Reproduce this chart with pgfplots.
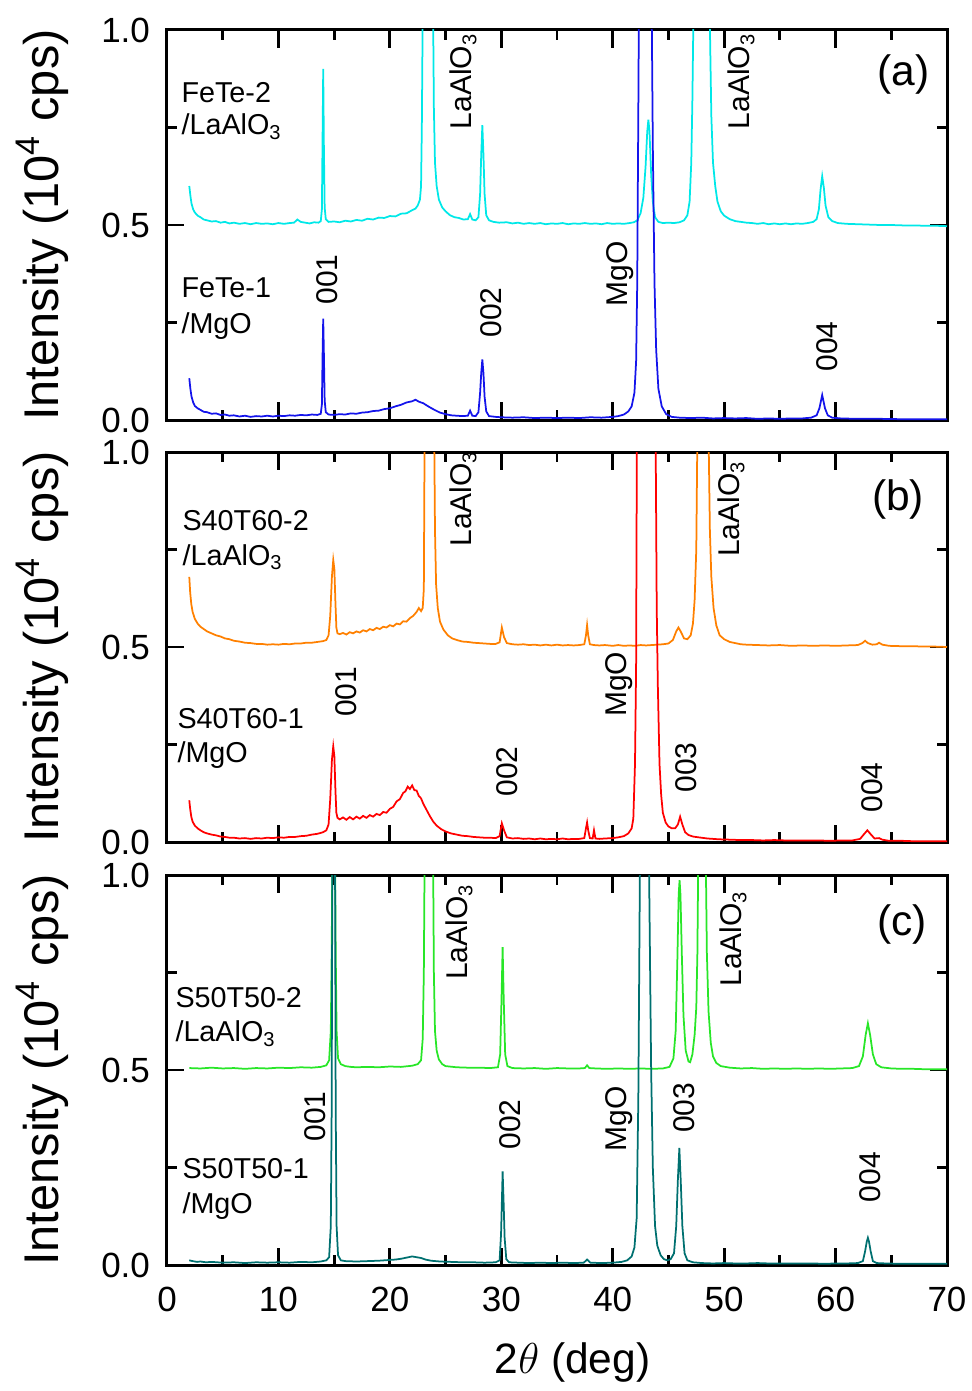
\documentclass[border=0pt]{standalone}
\usepackage{fontspec}
\setmainfont{Liberation Sans}
\usepackage{pgfplots}
\pgfplotsset{compat=1.18}
\definecolor{ccyan}{RGB}{0,232,232}
\definecolor{cblue}{RGB}{20,20,235}
\definecolor{corange}{RGB}{255,128,0}
\definecolor{cred}{RGB}{255,0,0}
\definecolor{cgreen}{RGB}{40,230,40}
\definecolor{cteal}{RGB}{0,112,112}
\newcommand{\ann}{\fontsize{11.5}{13}\selectfont}
\newcommand{\rot}{\fontsize{12}{14}\selectfont}
\newcommand{\plab}{\fontsize{17}{19}\selectfont}
\pgfplotsset{panel/.style={
  width=312pt,height=156pt,scale only axis,
  xmin=0,xmax=70,ymin=0,ymax=1,
  xtick={0,10,...,70}, minor x tick num=1,
  ytick={0,0.5,1}, minor y tick num=1,
  tick align=inside, major tick length=7pt, minor tick length=4pt,
  tick style={line width=1.1pt,black},
  axis line style={line width=1.2pt},
  /pgf/number format/assume math mode=true,
  tick label style={font=\fontsize{14}{16}\selectfont},
  yticklabel style={/pgf/number format/fixed,/pgf/number format/fixed zerofill,/pgf/number format/precision=1,xshift=-3.3pt},
  xticklabel style={yshift=-5.2pt},
  ylabel={Intensity (10\textsuperscript{4} cps)},
  ylabel style={at={(axis description cs:-0.16,0.5)},anchor=center,font=\fontsize{19.5}{21}\selectfont},
  every axis plot/.append style={line width=0.7pt},
  clip=true}}
\begin{document}
\begin{tikzpicture}
%================ (a)
\begin{axis}[panel, at={(0,0)}, anchor=north west, xticklabel=\empty]
\addplot[ccyan] coordinates {(2,0.60)(2.1,0.575)(2.2,0.555)(2.35,0.54)(2.5,0.532)(2.75,0.524)(3,0.52)(3.3,0.514)(3.6,0.512)(4,0.509)(4.4,0.51)(4.8,0.506)(5.2,0.508)(5.6,0.504)(6,0.506)(6.5,0.503)(7,0.505)(7.5,0.502)(8,0.505)(8.5,0.503)(9,0.504)(9.5,0.502)(10,0.505)(10.5,0.503)(11,0.505)(11.4,0.506)(11.7,0.514)(12,0.508)(12.4,0.506)(12.8,0.504)(13.2,0.507)(13.6,0.506)(13.8,0.51)(13.9,0.54)(13.97,0.75)(14.02,0.90)(14.08,0.7)(14.15,0.545)(14.25,0.515)(14.5,0.508)(15,0.509)(15.5,0.507)(16,0.511)(16.5,0.509)(17,0.513)(17.5,0.511)(18,0.516)(18.5,0.514)(19,0.519)(19.5,0.518)(20,0.523)(20.5,0.522)(21,0.529)(21.5,0.53)(22,0.538)(22.3,0.542)(22.5,0.55)(22.7,0.565)(22.8,0.6)(22.87,0.75)(22.95,1.05)(23.4,1.5)(23.88,1.05)(23.95,0.8)(24.05,0.66)(24.2,0.6)(24.4,0.565)(24.7,0.545)(25,0.535)(25.4,0.525)(25.8,0.52)(26.2,0.518)(26.6,0.514)(27,0.515)(27.2,0.528)(27.4,0.514)(27.7,0.512)(27.95,0.52)(28.1,0.58)(28.2,0.68)(28.3,0.756)(28.4,0.68)(28.5,0.58)(28.65,0.525)(28.9,0.512)(29.3,0.508)(29.8,0.506)(30.5,0.507)(31,0.504)(31.5,0.506)(32,0.503)(32.5,0.505)(33,0.503)(33.5,0.505)(34,0.502)(34.5,0.504)(35,0.503)(35.5,0.505)(36,0.502)(36.5,0.504)(37,0.503)(37.5,0.505)(38,0.503)(38.5,0.504)(39,0.502)(39.5,0.505)(40,0.503)(40.5,0.504)(41,0.503)(41.5,0.505)(41.9,0.507)(42.2,0.512)(42.5,0.53)(42.75,0.57)(42.95,0.65)(43.1,0.74)(43.2,0.77)(43.3,0.74)(43.45,0.63)(43.6,0.56)(43.8,0.52)(44.1,0.508)(44.5,0.505)(45,0.506)(45.5,0.505)(46,0.507)(46.4,0.512)(46.7,0.525)(46.9,0.56)(47.05,0.66)(47.15,0.82)(47.25,1.05)(48,1.6)(48.7,1.05)(48.85,0.78)(49.0,0.66)(49.2,0.6)(49.4,0.56)(49.7,0.535)(50,0.524)(50.5,0.515)(51,0.51)(51.5,0.508)(52,0.506)(52.5,0.505)(53,0.503)(53.5,0.505)(54,0.502)(54.5,0.504)(55,0.502)(55.5,0.504)(56,0.502)(56.5,0.504)(57,0.503)(57.5,0.505)(58,0.508)(58.3,0.515)(58.5,0.54)(58.65,0.59)(58.8,0.625)(58.95,0.595)(59.1,0.55)(59.35,0.52)(59.7,0.51)(60.2,0.505)(61,0.503)(62,0.502)(63,0.501)(64,0.5)(65,0.5)(66,0.499)(67,0.499)(68,0.498)(69,0.498)(70,0.497)};
\addplot[cblue] coordinates {(2,0.107)(2.1,0.08)(2.2,0.06)(2.35,0.045)(2.5,0.036)(2.75,0.03)(3,0.026)(3.3,0.021)(3.6,0.02)(4,0.016)(4.4,0.017)(4.8,0.013)(5.2,0.014)(5.6,0.011)(6,0.012)(6.5,0.009)(7,0.011)(7.5,0.008)(8,0.01)(8.5,0.009)(9,0.011)(9.5,0.009)(10,0.011)(10.5,0.01)(11,0.012)(11.5,0.011)(12,0.013)(12.5,0.012)(13,0.014)(13.5,0.013)(13.8,0.016)(13.9,0.04)(13.97,0.18)(14.02,0.26)(14.08,0.17)(14.15,0.05)(14.25,0.02)(14.5,0.014)(15,0.013)(15.5,0.015)(16,0.014)(16.5,0.017)(17,0.016)(17.5,0.019)(18,0.02)(18.5,0.023)(19,0.024)(19.5,0.028)(20,0.03)(20.5,0.035)(21,0.039)(21.5,0.045)(22,0.048)(22.3,0.052)(22.6,0.047)(23,0.043)(23.5,0.034)(24,0.026)(24.5,0.019)(25,0.015)(25.5,0.012)(26,0.011)(26.5,0.01)(27,0.011)(27.2,0.024)(27.4,0.011)(27.7,0.01)(27.95,0.02)(28.1,0.07)(28.2,0.12)(28.3,0.155)(28.4,0.12)(28.5,0.06)(28.65,0.022)(28.9,0.01)(29.5,0.008)(30,0.007)(31,0.006)(32,0.007)(33,0.005)(34,0.006)(35,0.005)(36,0.006)(37,0.005)(38,0.007)(39,0.006)(40,0.008)(40.5,0.01)(41,0.014)(41.4,0.022)(41.7,0.035)(41.95,0.07)(42.1,0.15)(42.2,0.35)(42.3,0.8)(42.35,1.05)(42.9,2.0)(43.5,1.05)(43.6,0.7)(43.75,0.35)(43.9,0.18)(44.1,0.08)(44.4,0.035)(44.8,0.015)(45.3,0.008)(46,0.006)(47,0.005)(48,0.006)(49,0.004)(50,0.005)(51,0.004)(52,0.005)(53,0.003)(54,0.004)(55,0.003)(56,0.004)(57,0.004)(57.8,0.006)(58.3,0.012)(58.55,0.03)(58.8,0.064)(59.05,0.03)(59.3,0.012)(59.7,0.006)(60.5,0.004)(62,0.003)(64,0.003)(66,0.002)(68,0.002)(70,0.002)};
\node[anchor=base west,inner sep=0,font=\ann] at (axis cs:1.26,0.815) {FeTe-2};
\node[anchor=base west,inner sep=0,font=\ann] at (axis cs:1.26,0.731) {/LaAlO\textsubscript{3}};
\node[anchor=base west,inner sep=0,font=\ann] at (axis cs:1.26,0.313) {FeTe-1};
\node[anchor=base west,inner sep=0,font=\ann] at (axis cs:1.26,0.223) {/MgO};
\node[rotate=90,anchor=base west,inner sep=0,font=\rot] at (axis cs:15.26,0.295) {001};
\node[rotate=90,anchor=base west,inner sep=0,font=\rot] at (axis cs:27.37,0.744) {LaAlO\textsubscript{3}};
\node[rotate=90,anchor=base west,inner sep=0,font=\rot] at (axis cs:30.06,0.21) {002};
\node[rotate=90,anchor=base west,inner sep=0,font=\rot] at (axis cs:41.37,0.29) {MgO};
\node[rotate=90,anchor=base west,inner sep=0,font=\rot] at (axis cs:52.3,0.744) {LaAlO\textsubscript{3}};
\node[rotate=90,anchor=base west,inner sep=0,font=\rot] at (axis cs:60.13,0.123) {004};
\node[font=\plab] at (axis cs:66.1,0.887) {(a)};
\end{axis}
%================ (b)
\begin{axis}[panel, at={(0,-168.8pt)}, anchor=north west, xticklabel=\empty]
\addplot[corange] coordinates {(2,0.68)(2.08,0.64)(2.18,0.61)(2.3,0.59)(2.5,0.572)(2.75,0.56)(3,0.552)(3.3,0.546)(3.6,0.54)(4,0.535)(4.4,0.53)(4.8,0.527)(5.2,0.522)(5.6,0.52)(6,0.516)(6.5,0.514)(7,0.511)(7.5,0.51)(8,0.508)(8.5,0.508)(9,0.506)(9.5,0.507)(10,0.506)(10.5,0.508)(11,0.507)(11.5,0.509)(12,0.509)(12.5,0.511)(13,0.511)(13.5,0.513)(14,0.515)(14.3,0.518)(14.5,0.53)(14.65,0.58)(14.8,0.68)(14.92,0.723)(15.02,0.7)(15.12,0.61)(15.2,0.55)(15.3,0.535)(15.5,0.533)(15.8,0.536)(16.1,0.532)(16.4,0.538)(16.7,0.535)(17,0.54)(17.3,0.537)(17.6,0.543)(17.9,0.54)(18.2,0.546)(18.5,0.543)(18.8,0.549)(19.1,0.546)(19.4,0.552)(19.7,0.55)(20,0.556)(20.3,0.553)(20.6,0.56)(20.9,0.558)(21.2,0.566)(21.5,0.565)(21.8,0.574)(22.1,0.58)(22.4,0.59)(22.6,0.6)(22.8,0.592)(22.95,0.6)(23.05,0.65)(23.12,1.05)(23.5,1.5)(23.98,1.05)(24.05,0.8)(24.15,0.66)(24.3,0.6)(24.5,0.565)(24.8,0.545)(25.2,0.53)(25.6,0.522)(26,0.518)(26.5,0.514)(27,0.513)(27.5,0.511)(28,0.51)(28.5,0.509)(29,0.508)(29.5,0.508)(29.85,0.512)(30.05,0.55)(30.25,0.525)(30.5,0.51)(31,0.507)(31.5,0.506)(32,0.507)(32.5,0.505)(33,0.506)(33.5,0.504)(34,0.506)(34.5,0.504)(35,0.506)(35.5,0.504)(36,0.505)(36.5,0.504)(37,0.505)(37.45,0.507)(37.6,0.53)(37.7,0.556)(37.8,0.53)(37.95,0.507)(38.3,0.505)(38.8,0.504)(39.3,0.505)(40,0.503)(40.5,0.505)(41,0.503)(41.5,0.504)(42,0.503)(42.5,0.505)(43,0.504)(43.5,0.505)(44,0.506)(44.5,0.507)(45,0.509)(45.4,0.518)(45.7,0.54)(45.9,0.55)(46.1,0.54)(46.4,0.522)(46.7,0.52)(47,0.53)(47.2,0.56)(47.35,0.62)(47.5,0.75)(47.6,1.05)(48.1,1.6)(48.6,1.05)(48.72,0.8)(48.85,0.68)(49.05,0.6)(49.3,0.555)(49.6,0.53)(50,0.52)(50.5,0.513)(51,0.51)(51.5,0.507)(52,0.506)(53,0.505)(54,0.504)(55,0.505)(56,0.503)(57,0.504)(58,0.503)(59,0.504)(60,0.503)(61,0.504)(62,0.505)(62.4,0.51)(62.65,0.516)(62.9,0.51)(63.3,0.506)(63.7,0.507)(63.9,0.511)(64.2,0.506)(64.8,0.503)(66,0.502)(67,0.502)(68,0.501)(69,0.501)(70,0.5)};
\addplot[cred] coordinates {(2,0.107)(2.08,0.085)(2.18,0.065)(2.3,0.052)(2.5,0.042)(2.75,0.035)(3,0.03)(3.3,0.025)(3.6,0.022)(4,0.019)(4.4,0.017)(4.8,0.014)(5.2,0.013)(5.6,0.011)(6,0.011)(6.5,0.009)(7,0.01)(7.5,0.008)(8,0.01)(8.5,0.009)(9,0.011)(9.5,0.01)(10,0.012)(10.5,0.011)(11,0.013)(11.5,0.013)(12,0.015)(12.5,0.016)(13,0.019)(13.5,0.021)(14,0.025)(14.3,0.03)(14.5,0.045)(14.65,0.11)(14.8,0.21)(14.92,0.245)(15.02,0.22)(15.12,0.13)(15.2,0.075)(15.3,0.062)(15.5,0.058)(15.8,0.063)(16.1,0.057)(16.4,0.064)(16.7,0.058)(17,0.065)(17.3,0.06)(17.6,0.067)(17.9,0.062)(18.2,0.069)(18.5,0.065)(18.8,0.072)(19.1,0.069)(19.4,0.077)(19.7,0.075)(20,0.085)(20.3,0.09)(20.6,0.104)(20.9,0.11)(21.2,0.126)(21.4,0.13)(21.6,0.142)(21.8,0.136)(22,0.145)(22.2,0.133)(22.4,0.132)(22.6,0.118)(22.8,0.112)(23,0.098)(23.3,0.082)(23.6,0.066)(23.9,0.052)(24.2,0.042)(24.6,0.033)(25,0.027)(25.5,0.022)(26,0.019)(26.5,0.016)(27,0.015)(27.5,0.013)(28,0.012)(28.5,0.011)(29,0.011)(29.5,0.01)(29.85,0.015)(30.05,0.048)(30.25,0.03)(30.5,0.012)(31,0.009)(31.5,0.01)(32,0.008)(32.5,0.009)(33,0.007)(33.5,0.009)(34,0.007)(34.5,0.008)(35,0.007)(35.5,0.009)(36,0.007)(36.5,0.008)(37,0.008)(37.45,0.01)(37.6,0.035)(37.7,0.05)(37.8,0.03)(37.95,0.01)(38.2,0.009)(38.32,0.03)(38.45,0.009)(38.8,0.008)(39.3,0.009)(40,0.01)(40.5,0.012)(41,0.015)(41.4,0.022)(41.7,0.035)(41.85,0.06)(42,0.2)(42.1,0.45)(42.17,1.05)(43,2.0)(43.85,1.05)(43.95,0.6)(44.05,0.4)(44.2,0.2)(44.35,0.12)(44.5,0.075)(44.75,0.05)(45,0.04)(45.3,0.035)(45.6,0.035)(45.85,0.045)(46.05,0.065)(46.25,0.045)(46.5,0.025)(46.8,0.018)(47.2,0.014)(47.7,0.012)(48.5,0.009)(49.5,0.007)(50.5,0.006)(51.5,0.005)(52.5,0.005)(53.5,0.004)(54.5,0.005)(55.5,0.004)(56.5,0.004)(57.5,0.004)(58.5,0.004)(59.5,0.003)(60.5,0.004)(61.5,0.004)(62.2,0.008)(62.55,0.02)(62.85,0.03)(63.15,0.02)(63.5,0.009)(63.9,0.01)(64.2,0.006)(64.8,0.003)(66,0.003)(67,0.002)(68,0.002)(69,0.002)(70,0.002)};
\node[anchor=base west,inner sep=0,font=\ann] at (axis cs:1.35,0.80) {S40T60-2};
\node[anchor=base west,inner sep=0,font=\ann] at (axis cs:1.35,0.71) {/LaAlO\textsubscript{3}};
\node[anchor=base west,inner sep=0,font=\ann] at (axis cs:0.9,0.292) {S40T60-1};
\node[anchor=base west,inner sep=0,font=\ann] at (axis cs:0.9,0.203) {/MgO};
\node[rotate=90,anchor=base west,inner sep=0,font=\rot] at (axis cs:27.37,0.756) {LaAlO\textsubscript{3}};
\node[rotate=90,anchor=base west,inner sep=0,font=\rot] at (axis cs:17.05,0.32) {001};
\node[rotate=90,anchor=base west,inner sep=0,font=\rot] at (axis cs:31.5,0.115) {002};
\node[rotate=90,anchor=base west,inner sep=0,font=\rot] at (axis cs:41.2,0.32) {MgO};
\node[rotate=90,anchor=base west,inner sep=0,font=\rot] at (axis cs:47.56,0.126) {003};
\node[rotate=90,anchor=base west,inner sep=0,font=\rot] at (axis cs:51.42,0.73) {LaAlO\textsubscript{3}};
\node[rotate=90,anchor=base west,inner sep=0,font=\rot] at (axis cs:64.17,0.074) {004};
\node[font=\plab] at (axis cs:65.6,0.877) {(b)};
\end{axis}
%================ (c)
\begin{axis}[panel, at={(0,-338pt)}, anchor=north west,
  xlabel={2$\theta$ (deg)},
  xlabel style={at={(axis description cs:0.52,-0.249)},anchor=center,font=\fontsize{17}{19}\selectfont}]
\addplot[cgreen] coordinates {(2,0.505)(3,0.504)(4,0.506)(5,0.504)(6,0.505)(7,0.503)(8,0.505)(9,0.504)(10,0.506)(11,0.505)(12,0.507)(13,0.506)(13.8,0.508)(14.3,0.512)(14.55,0.525)(14.7,0.6)(14.78,0.8)(14.84,1.05)(14.96,1.5)(15.08,1.05)(15.14,0.8)(15.22,0.6)(15.35,0.53)(15.6,0.515)(16,0.51)(16.5,0.508)(17,0.507)(18,0.508)(19,0.507)(20,0.509)(21,0.508)(22,0.511)(22.5,0.515)(22.8,0.525)(22.95,0.58)(23.05,0.75)(23.12,1.05)(23.5,1.5)(23.88,1.05)(23.95,0.75)(24.05,0.6)(24.2,0.55)(24.4,0.527)(24.7,0.515)(25,0.51)(26,0.507)(27,0.506)(28,0.506)(29,0.505)(29.7,0.507)(29.9,0.54)(30.02,0.68)(30.12,0.815)(30.22,0.68)(30.35,0.54)(30.55,0.51)(31,0.505)(32,0.504)(33,0.505)(34,0.503)(35,0.505)(36,0.504)(37,0.504)(37.5,0.505)(37.7,0.512)(37.9,0.505)(38.5,0.504)(39.5,0.503)(40.5,0.504)(41.5,0.503)(42.5,0.504)(43.5,0.503)(44.5,0.504)(45.1,0.508)(45.45,0.53)(45.65,0.6)(45.8,0.78)(45.92,0.95)(46.0,0.987)(46.08,0.95)(46.2,0.8)(46.35,0.64)(46.55,0.55)(46.8,0.522)(46.95,0.52)(47.15,0.54)(47.35,0.59)(47.5,0.66)(47.6,0.8)(47.68,1.05)(48.0,1.6)(48.35,1.05)(48.45,0.8)(48.6,0.65)(48.8,0.57)(49.0,0.535)(49.3,0.518)(49.7,0.51)(50.5,0.506)(51.5,0.504)(52.5,0.505)(53.5,0.503)(54.5,0.504)(55.5,0.503)(56.5,0.504)(57.5,0.503)(58.5,0.504)(59.5,0.503)(60.5,0.504)(61.5,0.505)(62.1,0.51)(62.45,0.535)(62.7,0.59)(62.9,0.62)(63.1,0.59)(63.35,0.54)(63.65,0.515)(64.1,0.507)(65,0.504)(66,0.503)(67,0.503)(68,0.502)(69,0.502)(70,0.502)};
\addplot[cteal] coordinates {(2,0.012)(2.3,0.01)(2.7,0.008)(3,0.009)(3.5,0.007)(4,0.008)(5,0.006)(6,0.007)(7,0.005)(8,0.007)(9,0.006)(10,0.007)(11,0.006)(12,0.008)(13,0.007)(13.8,0.009)(14.3,0.012)(14.55,0.02)(14.7,0.1)(14.78,0.4)(14.84,1.05)(14.96,1.5)(15.08,1.05)(15.14,0.4)(15.22,0.1)(15.35,0.025)(15.6,0.012)(16,0.01)(17,0.009)(18,0.01)(19,0.011)(20,0.013)(20.5,0.014)(21,0.016)(21.5,0.019)(22,0.022)(22.4,0.02)(22.8,0.018)(23.2,0.014)(23.7,0.011)(24.5,0.009)(25.5,0.008)(26.5,0.007)(27.5,0.007)(28.5,0.006)(29.5,0.007)(29.85,0.012)(29.98,0.08)(30.06,0.17)(30.12,0.24)(30.2,0.17)(30.3,0.07)(30.45,0.015)(30.7,0.007)(31.5,0.006)(32.5,0.005)(33.5,0.006)(34.5,0.005)(35.5,0.006)(36.5,0.005)(37.4,0.006)(37.7,0.014)(38,0.006)(39,0.005)(40,0.006)(40.8,0.008)(41.3,0.012)(41.7,0.022)(41.95,0.045)(42.15,0.12)(42.3,0.43)(42.45,1.05)(42.85,2.0)(43.25,1.05)(43.45,0.5)(43.6,0.25)(43.8,0.1)(44.0,0.05)(44.3,0.025)(44.6,0.015)(44.9,0.012)(45.2,0.015)(45.5,0.03)(45.7,0.1)(45.85,0.22)(45.98,0.3)(46.1,0.22)(46.25,0.1)(46.45,0.03)(46.7,0.012)(47.2,0.007)(48,0.005)(49,0.004)(50,0.005)(51,0.004)(52,0.004)(53,0.005)(54,0.004)(55,0.004)(56,0.004)(57,0.004)(58,0.004)(59,0.003)(60,0.004)(61,0.004)(62,0.005)(62.45,0.01)(62.65,0.035)(62.8,0.06)(62.9,0.07)(63.0,0.06)(63.15,0.035)(63.35,0.01)(63.7,0.005)(64.5,0.004)(66,0.003)(68,0.003)(70,0.003)};
\node[anchor=base west,inner sep=0,font=\ann] at (axis cs:0.72,0.66) {S50T50-2};
\node[anchor=base west,inner sep=0,font=\ann] at (axis cs:0.72,0.572) {/LaAlO\textsubscript{3}};
\node[anchor=base west,inner sep=0,font=\ann] at (axis cs:1.35,0.223) {S50T50-1};
\node[anchor=base west,inner sep=0,font=\ann] at (axis cs:1.35,0.133) {/MgO};
\node[rotate=90,anchor=base west,inner sep=0,font=\rot] at (axis cs:14.18,0.315) {001};
\node[rotate=90,anchor=base west,inner sep=0,font=\rot] at (axis cs:27.0,0.73) {LaAlO\textsubscript{3}};
\node[rotate=90,anchor=base west,inner sep=0,font=\rot] at (axis cs:31.68,0.295) {002};
\node[rotate=90,anchor=base west,inner sep=0,font=\rot] at (axis cs:41.2,0.29) {MgO};
\node[rotate=90,anchor=base west,inner sep=0,font=\rot] at (axis cs:47.38,0.338) {003};
\node[rotate=90,anchor=base west,inner sep=0,font=\rot] at (axis cs:51.6,0.713) {LaAlO\textsubscript{3}};
\node[rotate=90,anchor=base west,inner sep=0,font=\rot] at (axis cs:64.0,0.16) {004};
\node[font=\plab] at (axis cs:65.96,0.872) {(c)};
\end{axis}
\pgfresetboundingbox
\path[use as bounding box] (-66.8pt,12pt) rectangle (321.6pt,-544.4pt);
\end{tikzpicture}
\end{document}
